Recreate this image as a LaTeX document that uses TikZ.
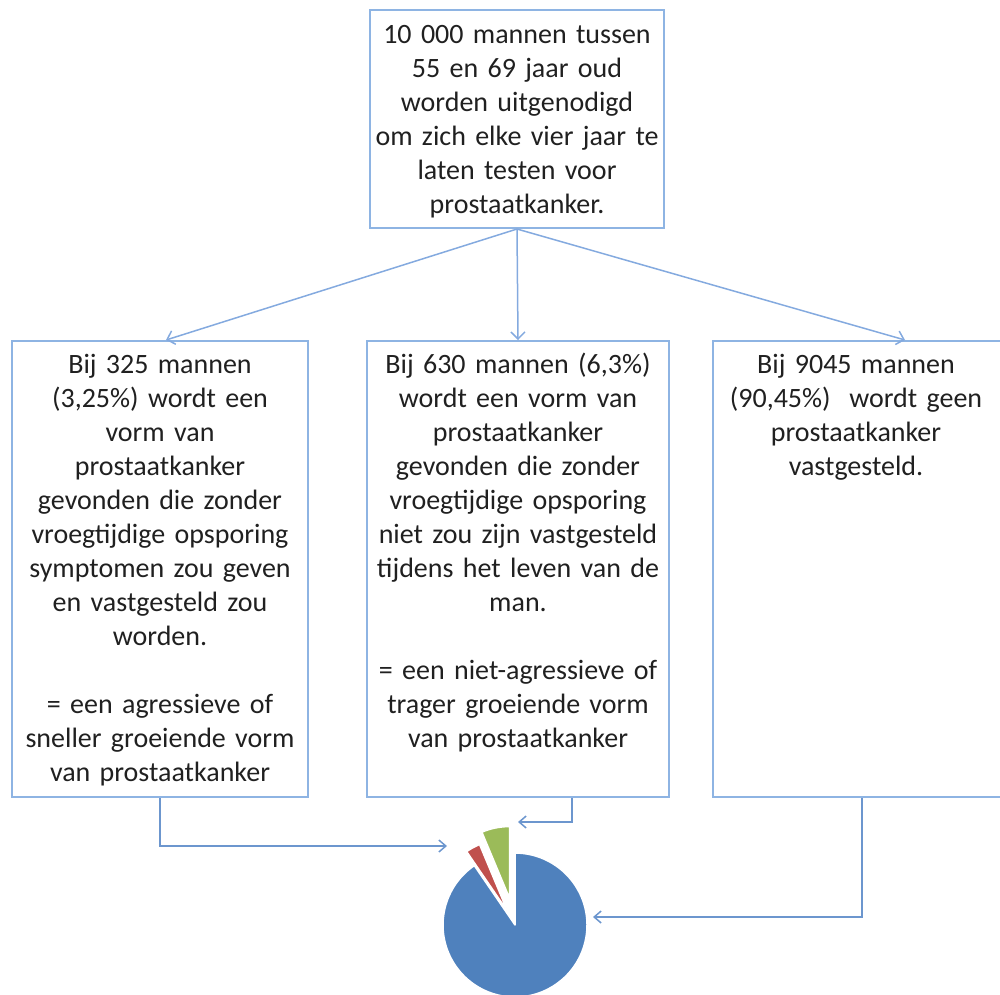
\documentclass[tikz,border=0pt]{standalone}
\usepackage{fontspec}
\setmainfont{Carlito}
\usetikzlibrary{arrows.meta,calc}
\definecolor{boxline}{HTML}{8EB4E3}
\definecolor{arrowblue}{HTML}{84AADF}
\definecolor{linkblue}{HTML}{6C96CE}
\definecolor{textgray}{HTML}{202020}
\definecolor{pieblue}{HTML}{4F81BD}
\definecolor{piered}{HTML}{C0504D}
\definecolor{piegreen}{HTML}{9BBB59}
\begin{document}
\begin{tikzpicture}[x=1pt,y=-1pt,
  box/.style={draw=boxline, line width=2pt, rectangle, inner sep=0pt},
  txt/.style={font=\fontsize{28}{34}\selectfont, text=textgray, align=center,
    inner sep=0pt, anchor=base},
  flow/.style={draw=arrowblue, line width=1.5pt, -{Straight Barb[length=7pt,width=14pt]}},
  link/.style={draw=linkblue, line width=1.5pt, -{Straight Barb[length=7pt,width=12pt]}},
  slice/.style={draw=white, line width=1.5pt, line join=round}]
\useasboundingbox (0,0) rectangle (1000,994);

% boxes
\node[box, minimum width=294pt, minimum height=218pt] (top) at (517,119) {};
\node[box, minimum width=296pt, minimum height=456pt] (lbox) at (160,569) {};
\node[box, minimum width=302pt, minimum height=456pt] (mbox) at (518,569) {};
\node[box, minimum width=298pt, minimum height=456pt] (rbox) at (862,569) {};

% texts
\node[txt, text width=290pt] (toptext) at (517,43)
  {10 000 mannen tussen\\55 en 69 jaar oud\\worden uitgenodigd\\om zich elke vier jaar te\\laten testen voor\\prostaatkanker.};
\node[txt, text width=292pt] (ltext) at (160,373)
  {Bij 325 mannen\\(3,25\%) wordt een\\vorm van\\prostaatkanker\\gevonden die zonder\\vroegtijdige opsporing\\symptomen zou geven\\en vastgesteld zou\\worden.\\[34pt]= een agressieve of\\sneller groeiende vorm\\van prostaatkanker};
\node[txt, text width=298pt] (mtext) at (518,373)
  {Bij 630 mannen (6,3\%)\\wordt een vorm van\\prostaatkanker\\gevonden die zonder\\vroegtijdige opsporing\\niet zou zijn vastgesteld\\tijdens het leven van de\\man.\\[34pt]= een niet-agressieve of\\trager groeiende vorm\\van prostaatkanker};
\node[txt, text width=290pt] (rtext) at (856,373)
  {Bij 9045 mannen\\(90,45\%)~ wordt geen\\prostaatkanker\\vastgesteld.};

% arrows from the top box
\draw[flow] (top.south) -- ([xshift=6pt]lbox.north);
\draw[flow] (top.south) -- (mbox.north);
\draw[flow] (top.south) -- ([xshift=43pt]rbox.north);

% connectors towards the pie chart
\coordinate (lend) at (447,846);
\coordinate (mend) at (518,822);
\coordinate (rend) at (593,917);
\draw[link] (lbox.south) |- (lend);
\draw[link] ([xshift=54pt]mbox.south) |- (mend);
\draw[link] (rbox.south) |- (rend);

% pie chart
\begin{scope}[shift={(515,925)}, y=1pt]
  \fill[pieblue, slice] (0,0) -- (124.4:72) arc[start angle=124.4, end angle=450, radius=72] -- cycle;
  \fill[piered, slice, shift={(118.55:16)}] (0,0) -- (112.7:72) arc[start angle=112.7, end angle=124.4, radius=72] -- cycle;
  \fill[piegreen, slice, shift={(101.35:27)}] (0,0) -- (90:72) arc[start angle=90, end angle=112.7, radius=72] -- cycle;
\end{scope}
\end{tikzpicture}
\end{document}
